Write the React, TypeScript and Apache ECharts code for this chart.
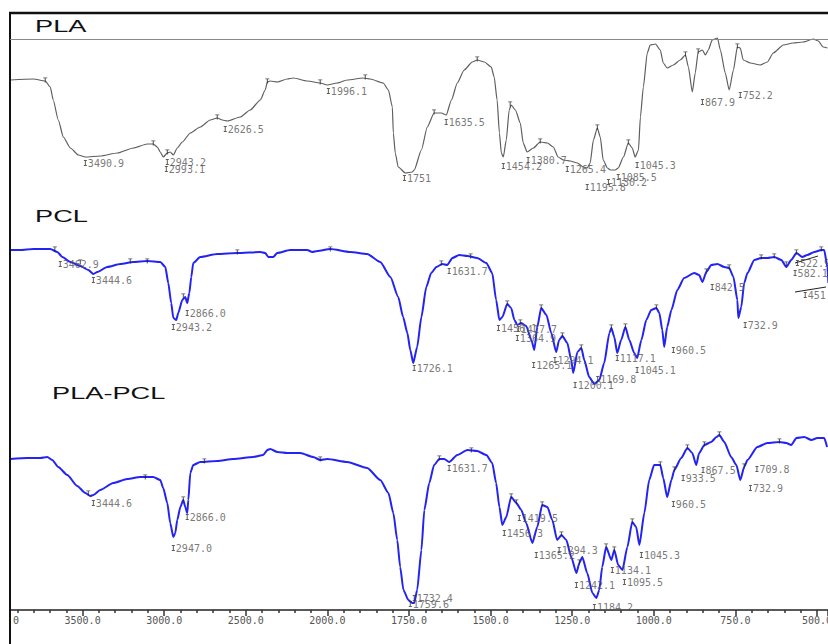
import { useEffect, useRef } from "react";
import * as echarts from "echarts";

// x-axis tick labels (one per major tick, scale changes at 2000 cm-1)
const tickLabels = ["4000.0", "3500.0", "3000.0", "2500.0", "2000.0", "1750.0", "1500.0", "1250.0", "1000.0", "750.0", "500.0"];

// ---------- PLA (wavenumber, transmittance) ----------
const plaWn = [3943, 3802, 3729, 3698, 3680, 3649, 3618, 3575, 3526, 3483, 3392, 3287, 3189, 3104, 3067, 3042, 3024, 3006, 2981, 2963, 2944, 2920, 2889, 2840, 2779, 2718, 2675, 2644, 2613, 2534, 2473, 2411, 2381, 2368, 2350, 2307, 2246, 2209, 2123, 2044, 2001, 1970, 1939, 1890, 1869, 1829, 1813, 1801, 1798, 1792, 1783, 1761, 1740, 1734, 1712, 1694, 1673, 1651, 1636, 1620, 1602, 1581, 1556, 1541, 1519, 1498, 1489, 1480, 1473, 1467, 1461, 1452, 1443, 1437, 1424, 1409, 1400, 1388, 1369, 1348, 1326, 1308, 1293, 1277, 1256, 1234, 1216, 1204, 1195, 1185, 1173, 1164, 1155, 1142, 1133, 1118, 1109, 1093, 1078, 1066, 1057, 1047, 1041, 1032, 1020, 1011, 995, 980, 971, 959, 940, 919, 903, 894, 882, 873, 864, 851, 842, 833, 821, 805, 796, 781, 769, 756, 744, 735, 726, 704, 674, 652, 634, 603, 573, 542, 511, 496, 481, 468];
const plaT = [65, 65.5, 64.5, 61.5, 55, 45, 36.5, 31, 27.5, 26.5, 27, 28.5, 31, 33, 33, 31.5, 29, 26.5, 28.5, 29, 27.5, 31, 34, 38.5, 41.5, 45, 46, 45, 44.5, 46.5, 50, 55, 60, 64, 64.5, 64, 65.5, 66, 64.5, 63.5, 62.5, 63.5, 65, 66, 65.5, 63.5, 60, 51.5, 38.5, 28.5, 21.5, 18.5, 19, 20, 30, 41.5, 48.5, 48.5, 47.5, 55, 63.5, 70, 74, 75, 74, 71.5, 66.5, 55, 38.5, 28.5, 26.5, 35, 50, 52.5, 50, 43.5, 33.5, 29, 31, 34, 33.5, 31.5, 26.5, 25, 24.5, 23.5, 21.5, 21, 23.5, 35, 41, 36.5, 25, 21, 20, 20, 21, 26.5, 33.5, 31, 26.5, 30, 46.5, 61.5, 78.5, 82.5, 83, 80, 73.5, 71, 72.5, 75, 77.5, 71.5, 59, 68.5, 79, 80, 77.5, 80, 85, 86, 80, 68.5, 60, 70, 81.5, 81, 75, 73.5, 72.5, 74, 78.5, 82.5, 83.5, 84, 85.5, 84.5, 81.5, 81];

// ---------- PCL ----------
const pclWn = [3943, 3882, 3802, 3698, 3655, 3624, 3575, 3514, 3465, 3434, 3410, 3349, 3269, 3189, 3104, 3024, 2993, 2975, 2957, 2944, 2926, 2914, 2889, 2871, 2859, 2846, 2834, 2822, 2779, 2675, 2552, 2411, 2381, 2362, 2332, 2307, 2228, 2123, 2093, 2062, 1991, 1930, 1878, 1838, 1807, 1783, 1768, 1755, 1746, 1737, 1725, 1712, 1697, 1682, 1666, 1648, 1633, 1617, 1596, 1571, 1541, 1513, 1495, 1483, 1473, 1464, 1449, 1437, 1427, 1418, 1406, 1391, 1375, 1366, 1357, 1345, 1329, 1314, 1299, 1290, 1280, 1265, 1253, 1247, 1234, 1222, 1213, 1198, 1182, 1167, 1152, 1136, 1130, 1121, 1112, 1100, 1087, 1075, 1060, 1051, 1038, 1023, 1008, 992, 983, 974, 968, 959, 946, 928, 907, 876, 861, 851, 839, 824, 805, 784, 769, 756, 744, 741, 732, 723, 713, 692, 671, 652, 631, 609, 594, 579, 563, 545, 530, 508, 487, 478, 468, 465];
const pclT = [75, 75, 75.5, 75.5, 74, 71.5, 69, 67, 65, 63, 64, 66.5, 68, 69, 69.5, 69, 66.5, 58.5, 48.5, 41, 40, 43.5, 50, 51.5, 48.5, 53.5, 61.5, 68.5, 71.5, 73, 73.5, 74, 73.5, 71.5, 71.5, 73.5, 75, 75, 74, 74.5, 75.5, 74, 73, 69, 61.5, 51.5, 41.5, 33.5, 25, 18.5, 26.5, 41.5, 56.5, 63.5, 66.5, 68, 67.5, 71, 72.5, 72, 71, 68.5, 63.5, 50, 40, 41.5, 48, 46, 40, 37.5, 38.5, 37, 30, 25, 36.5, 46, 42.5, 33.5, 24, 30, 32, 28.5, 20, 13.5, 24, 26, 20, 11.5, 8, 10, 18.5, 33.5, 36, 31.5, 23.5, 30, 36.5, 30, 23.5, 21, 30, 40, 45, 46, 43.5, 35, 26.5, 36.5, 45, 55, 61, 63.5, 62.5, 59, 64, 67.5, 68, 66.5, 66, 61.5, 50, 41, 46.5, 58.5, 63.5, 70, 71, 71, 71.5, 70, 66.5, 70, 73.5, 71.5, 72.5, 74, 75, 75, 66.5, 58.5];

// ---------- PLA-PCL ----------
const blendWn = [3943, 3839, 3759, 3716, 3686, 3649, 3594, 3533, 3483, 3453, 3434, 3392, 3312, 3226, 3147, 3067, 3024, 3006, 2981, 2963, 2944, 2932, 2920, 2901, 2883, 2871, 2859, 2852, 2840, 2822, 2779, 2675, 2577, 2454, 2393, 2368, 2350, 2307, 2246, 2166, 2087, 2044, 2001, 1939, 1878, 1838, 1813, 1798, 1786, 1777, 1767, 1752, 1740, 1734, 1725, 1712, 1703, 1688, 1673, 1657, 1642, 1627, 1602, 1571, 1541, 1513, 1495, 1483, 1473, 1464, 1452, 1437, 1421, 1406, 1391, 1372, 1357, 1342, 1326, 1311, 1296, 1283, 1268, 1253, 1237, 1228, 1219, 1204, 1188, 1176, 1167, 1158, 1146, 1130, 1121, 1109, 1096, 1081, 1066, 1054, 1044, 1029, 1014, 999, 980, 971, 959, 946, 937, 916, 897, 882, 870, 861, 845, 824, 808, 799, 784, 763, 747, 735, 723, 713, 683, 652, 615, 594, 579, 563, 539, 517, 499, 478, 469];
const blendT = [75.5, 76, 76, 76.5, 75, 71.5, 67.5, 62, 58.5, 57, 57.5, 60, 63.5, 65.5, 66.5, 66.5, 65, 61, 53.5, 43.5, 36.5, 38.5, 45, 51.5, 55, 51.5, 48.5, 55, 68.5, 72.5, 74, 74.5, 75.5, 76.5, 77.5, 80, 80.5, 79, 78.5, 78.5, 76.5, 75, 75.5, 74, 71, 65, 58.5, 48.5, 35, 21.5, 10, 5, 3.5, 3.5, 10, 30, 50, 63.5, 72.5, 75.5, 75.5, 74, 77.5, 80, 79.5, 77.5, 73.5, 63.5, 51.5, 42.5, 46.5, 56.5, 53.5, 50, 43.5, 33.5, 41.5, 52.5, 51.5, 45, 35, 37.5, 35, 26.5, 18.5, 23.5, 26.5, 18.5, 8.5, 6, 10, 21.5, 31.5, 25, 30, 22.5, 20, 31.5, 44, 41.5, 32.5, 48.5, 65, 72.5, 72.5, 66, 56.5, 65, 70, 76, 81, 78.5, 72.5, 78.5, 82.5, 84, 86.5, 87.5, 84, 76.5, 72.5, 65, 71.5, 75, 81.5, 83.5, 84, 83.5, 82.5, 86, 86.5, 85, 86, 86, 81.5];

// ---------- peak labels: [wavenumber, transmittance, text] ----------
const plaLabels: [number, number, string][] = [
  [3483, 23.5, "3490.9"], [2981, 24, "2943.2"], [2987, 20.5, "2993.1"], [2626, 40.5, "2626.5"],
  [1997, 59.5, "1996.1"], [1764, 16, "1751"], [1636, 44, "1635.5"], [1461, 22, "1454.2"],
  [1385, 25, "1380.7"], [1265, 20.5, "1265.4"], [1204, 11.5, "1195.8"], [1139, 14, "1130.2"],
  [1109, 16.5, "1085.5"], [1051, 22.5, "1045.3"], [851, 54, "867.9"], [735, 57.5, "752.2"],
];
const pclLabels: [number, number, string][] = [
  [3637, 68, "3462.9"], [3434, 60, "3444.6"], [2859, 43.5, "2866.0"], [2944, 36.5, "2943.2"],
  [1734, 16, "1726.1"], [1627, 64.5, "1631.7"], [1476, 36, "1456.1"], [1415, 35.5, "1417.7"],
  [1418, 31, "1364.9"], [1368, 17.5, "1265.1"], [1303, 20, "1294.1"], [1241, 7.5, "1200.1"],
  [1172, 10.5, "1169.8"], [1112, 21, "1117.1"], [1051, 15, "1045.1"], [940, 25, "960.5"],
  [821, 56.5, "842.5"], [720, 37.5, "732.9"], [560, 68.5, "522.9"], [567, 63.5, "582.1"], [536, 52.5, "451.2"],
];
const blendLabels: [number, number, string][] = [
  [3434, 53.5, "3444.6"], [2859, 46.5, "2866.0"], [2944, 31, "2947.0"], [1734, 6, "1732.4"],
  [1746, 3, "1759.6"], [1627, 71, "1631.7"], [1412, 46, "1419.5"], [1458, 38.5, "1456.3"],
  [1360, 27.5, "1365.2"], [1290, 30, "1294.3"], [1237, 12.5, "1242.1"], [1182, 1.5, "1184.2"],
  [1127, 20, "1134.1"], [1090, 14, "1095.5"], [1038, 27.5, "1045.3"], [940, 53, "960.5"],
  [910, 66, "933.5"], [849, 70, "867.5"], [684, 70.5, "709.8"], [704, 61, "732.9"],
];

// ---------- peak-top markers: [wavenumber, transmittance] ----------
const plaTops: [number, number][] = [[3729, 64.5], [3067, 33], [2981, 28.5], [2675, 46], [2368, 64], [2044, 63.5], [1884, 66], [1673, 48.5], [1541, 75], [1440, 52.5], [1348, 34], [1173, 41], [1078, 33.5], [903, 77.5], [864, 79], [744, 81.5]];
const pclTops: [number, number][] = [[3670, 75], [3514, 68.5], [3208, 69], [3104, 69], [2883, 51.5], [2552, 73.5], [1991, 75], [1651, 68], [1561, 71.5], [1449, 48], [1409, 38.5], [1345, 46], [1280, 32], [1222, 26], [1130, 36], [1087, 36.5], [992, 46], [839, 64], [769, 66], [671, 71], [631, 71.5], [594, 67.5], [563, 73.5], [487, 75]];
const blendTops: [number, number][] = [[3465, 58], [3116, 66], [2883, 55], [2754, 74], [2044, 75], [1657, 75.5], [1559, 79.5], [1437, 56.5], [1421, 53.5], [1342, 52.5], [1283, 37.5], [1228, 23.5], [1146, 31.5], [1121, 30], [1066, 44], [980, 72.5], [937, 70], [897, 81], [845, 82.5], [799, 87.5], [723, 71.5], [615, 84]];

// axis position: 500 cm-1 per unit above 2000, 250 cm-1 per unit below
const toPos = (w: number) => (w >= 2000 ? (4000 - w) / 500 : 4 + (2000 - w) / 250);
const X_MAX = 10.135;

const MONO = "'DejaVu Sans Mono', monospace";
const BLUE = "#2323f4";

function lineSeries(wn: number[], t: number[], idx: number, color: string, width: number) {
  return {
    type: "line",
    xAxisIndex: idx,
    yAxisIndex: idx,
    data: wn.map((w, i) => [toPos(w), t[i]]),
    showSymbol: false,
    symbol: "none",
    smooth: 0.2,
    smoothMonotone: "x",
    lineStyle: { color, width },
    silent: true,
    z: 3,
  };
}

function labelSeries(items: [number, number, string][], idx: number) {
  return {
    type: "scatter",
    xAxisIndex: idx,
    yAxisIndex: idx,
    silent: true,
    symbol: "path://M0,0H3V1H2V5H3V6H0V5H1V1H0Z",
    symbolSize: [3, 6],
    itemStyle: { color: "#333" },
    data: items.map(([w, t, s]) => ({ value: [toPos(w), t], name: s })),
    label: {
      show: true,
      position: "right",
      distance: 1,
      formatter: "{b}",
      fontFamily: MONO,
      fontSize: 10,
      color: "#555",
    },
    z: 4,
  };
}

function topSeries(items: [number, number][], idx: number) {
  return {
    type: "scatter",
    xAxisIndex: idx,
    yAxisIndex: idx,
    silent: true,
    symbol: "path://M0,0H4V1H2.5V6H1.5V1H0Z",
    symbolSize: [4, 5],
    symbolOffset: [0, -1],
    itemStyle: { color: "#222" },
    data: items.map(([w, t]) => [toPos(w), t]),
    z: 5,
  };
}

const grids = [
  { top: 10, height: 200 },
  { top: 200, height: 200 },
  { top: 410, height: 200 },
].map((g) => ({ ...g, left: 1, right: 0, outerBoundsMode: "none", containLabel: false }));

const xAxes = [0, 1, 2].map((i) => ({
  type: "value",
  gridIndex: i,
  min: 0,
  max: X_MAX,
  interval: 1,
  show: i === 2,
  axisLine: { show: true, onZero: false, lineStyle: { color: "#222", width: 1.5 } },
  axisTick: { show: true, length: 6, lineStyle: { color: "#333", width: 1.5 } },
  minorTick: { show: true, splitNumber: 5, length: 3, lineStyle: { color: "#333", width: 1.5 } },
  splitLine: { show: false },
  axisLabel: {
    show: true,
    margin: 5,
    fontFamily: MONO,
    fontSize: 10,
    color: "#555",
    showMinLabel: true,
    showMaxLabel: true,
    formatter: (v: number) => {
      const k = Math.round(v);
      return Math.abs(v - k) < 1e-6 && tickLabels[k] ? tickLabels[k] : "";
    },
  },
}));

const yAxes = [0, 1, 2].map((i) => ({
  type: "value",
  gridIndex: i,
  min: 0,
  max: 100,
  show: false,
  splitLine: { show: false },
}));

const titleFont = "17px 'Liberation Sans', Arial, sans-serif";

const option = {
  animation: false,
  backgroundColor: "#fff",
  grid: grids,
  xAxis: xAxes,
  yAxis: yAxes,
  series: [
    lineSeries(plaWn, plaT, 0, "#5e5e5e", 1.2),
    lineSeries(pclWn, pclT, 1, BLUE, 2),
    lineSeries(blendWn, blendT, 2, BLUE, 2),
    labelSeries(plaLabels, 0),
    labelSeries(pclLabels, 1),
    labelSeries(blendLabels, 2),
    topSeries(plaTops, 0),
    topSeries(pclTops, 1),
    topSeries(blendTops, 2),
  ],
  graphic: [
    { type: "rect", z: 100, silent: true, shape: { x: 0, y: 0, width: 9, height: 644 }, style: { fill: "#fff" } },
    { type: "line", z: 101, silent: true, shape: { x1: 10, y1: 12, x2: 10, y2: 644 }, style: { stroke: "#111", lineWidth: 2 } },
    { type: "line", z: 101, silent: true, shape: { x1: 9, y1: 13, x2: 828, y2: 13 }, style: { stroke: "#111", lineWidth: 2.5 } },
    { type: "line", z: 101, silent: true, shape: { x1: 10, y1: 39.5, x2: 828, y2: 39.5 }, style: { stroke: "#888", lineWidth: 1 } },
    { type: "line", z: 101, silent: true, shape: { x1: 795, y1: 263, x2: 818, y2: 256 }, style: { stroke: "#222", lineWidth: 1 } },
    { type: "line", z: 101, silent: true, shape: { x1: 795, y1: 292, x2: 826, y2: 287 }, style: { stroke: "#222", lineWidth: 1 } },
    { type: "text", z: 101, silent: true, x: 35, y: 26, scaleX: 1.6, style: { text: "PLA", font: titleFont, fill: "#111", textVerticalAlign: "middle" } },
    { type: "text", z: 101, silent: true, x: 35, y: 216, scaleX: 1.6, style: { text: "PCL", font: titleFont, fill: "#111", textVerticalAlign: "middle" } },
    { type: "text", z: 101, silent: true, x: 52, y: 393, scaleX: 1.6, style: { text: "PLA-PCL", font: titleFont, fill: "#111", textVerticalAlign: "middle" } },
  ],
};

export default function App() {
  const ref = useRef<HTMLDivElement>(null);
  useEffect(() => {
    if (!ref.current) return;
    const chart = echarts.init(ref.current, null, { renderer: "svg" });
    chart.setOption(option as any);
    return () => chart.dispose();
  }, []);
  return (
    <div
      ref={ref}
      style={{ position: "fixed", left: 0, top: 0, width: 828, height: 644, background: "#fff" }}
    />
  );
}
